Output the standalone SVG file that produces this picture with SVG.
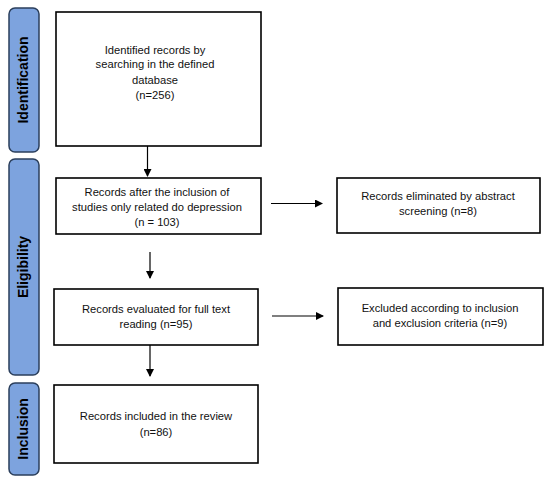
<svg xmlns="http://www.w3.org/2000/svg" width="550" height="481" viewBox="0 0 550 481">
<defs>
<marker id="ah" markerWidth="8" markerHeight="8" refX="7" refY="4" orient="auto" markerUnits="userSpaceOnUse">
<path d="M0,0 L8,4 L0,8 Z" fill="#000"/>
</marker>
<style>
.side{fill:#7DA3DE;stroke:#2B3F5C;stroke-width:1.5}
.sl{font-family:"Liberation Sans",Arial,sans-serif;font-weight:bold;font-size:14px;fill:#000;text-anchor:middle}
.box{fill:#fff;stroke:#000;stroke-width:1.6}
.bt{font-family:"Liberation Sans",Arial,sans-serif;font-size:11.2px;fill:#111;text-anchor:middle}
.ln{stroke:#000;stroke-width:1.2;fill:none;marker-end:url(#ah)}
</style>
</defs>
<rect width="550" height="481" fill="#fff"/>
<g id="side-identification">
<rect class="side" x="9" y="8" width="30" height="144" rx="6"/>
<text class="sl" transform="translate(28,80) rotate(-90)">Identification</text>
</g>
<g id="side-eligibility">
<rect class="side" x="9" y="159" width="30" height="216" rx="6"/>
<text class="sl" transform="translate(28,267) rotate(-90)">Eligibility</text>
</g>
<g id="side-inclusion">
<rect class="side" x="9" y="383" width="30" height="92" rx="6"/>
<text class="sl" transform="translate(28,429) rotate(-90)">Inclusion</text>
</g>
<g id="n1">
<rect class="box" x="56" y="12" width="205" height="134"/>
<text class="bt" x="155" y="54">Identified records by</text>
<text class="bt" x="155" y="68">searching in the defined</text>
<text class="bt" x="155" y="84">database</text>
<text class="bt" x="155" y="99">(n=256)</text>
</g>
<g id="n2">
<rect class="box" x="56" y="178" width="205" height="56"/>
<text class="bt" x="157" y="196">Records after the inclusion of</text>
<text class="bt" x="157" y="211">studies only related do depression</text>
<text class="bt" x="157" y="226" font-size="10">(n = 103)</text>
</g>
<g id="n3">
<rect class="box" x="54" y="289" width="204" height="56"/>
<text class="bt" x="156" y="313">Records evaluated for full text</text>
<text class="bt" x="156" y="328">reading (n=95)</text>
</g>
<g id="n4">
<rect class="box" x="54" y="385" width="204" height="78"/>
<text class="bt" x="156" y="420">Records included in the review</text>
<text class="bt" x="156" y="436">(n=86)</text>
</g>
<g id="n5">
<rect class="box" x="337" y="178" width="203" height="55" stroke-width="1.2"/>
<text class="bt" x="438" y="200">Records eliminated by abstract</text>
<text class="bt" x="438" y="215">screening (n=8)</text>
</g>
<g id="n6">
<rect class="box" x="338" y="288" width="205" height="57"/>
<text class="bt" x="440" y="312">Excluded according to inclusion</text>
<text class="bt" x="440" y="327">and exclusion criteria (n=9)</text>
</g>
<g id="connectors">
<line class="ln" x1="147.5" y1="146" x2="147.5" y2="176"/>
<line class="ln" x1="150" y1="252" x2="150" y2="278"/>
<line class="ln" x1="150" y1="345" x2="150" y2="376"/>
<line class="ln" x1="271" y1="203.5" x2="322" y2="203.5"/>
<line class="ln" x1="272" y1="316" x2="323" y2="316"/>
</g>
</svg>
